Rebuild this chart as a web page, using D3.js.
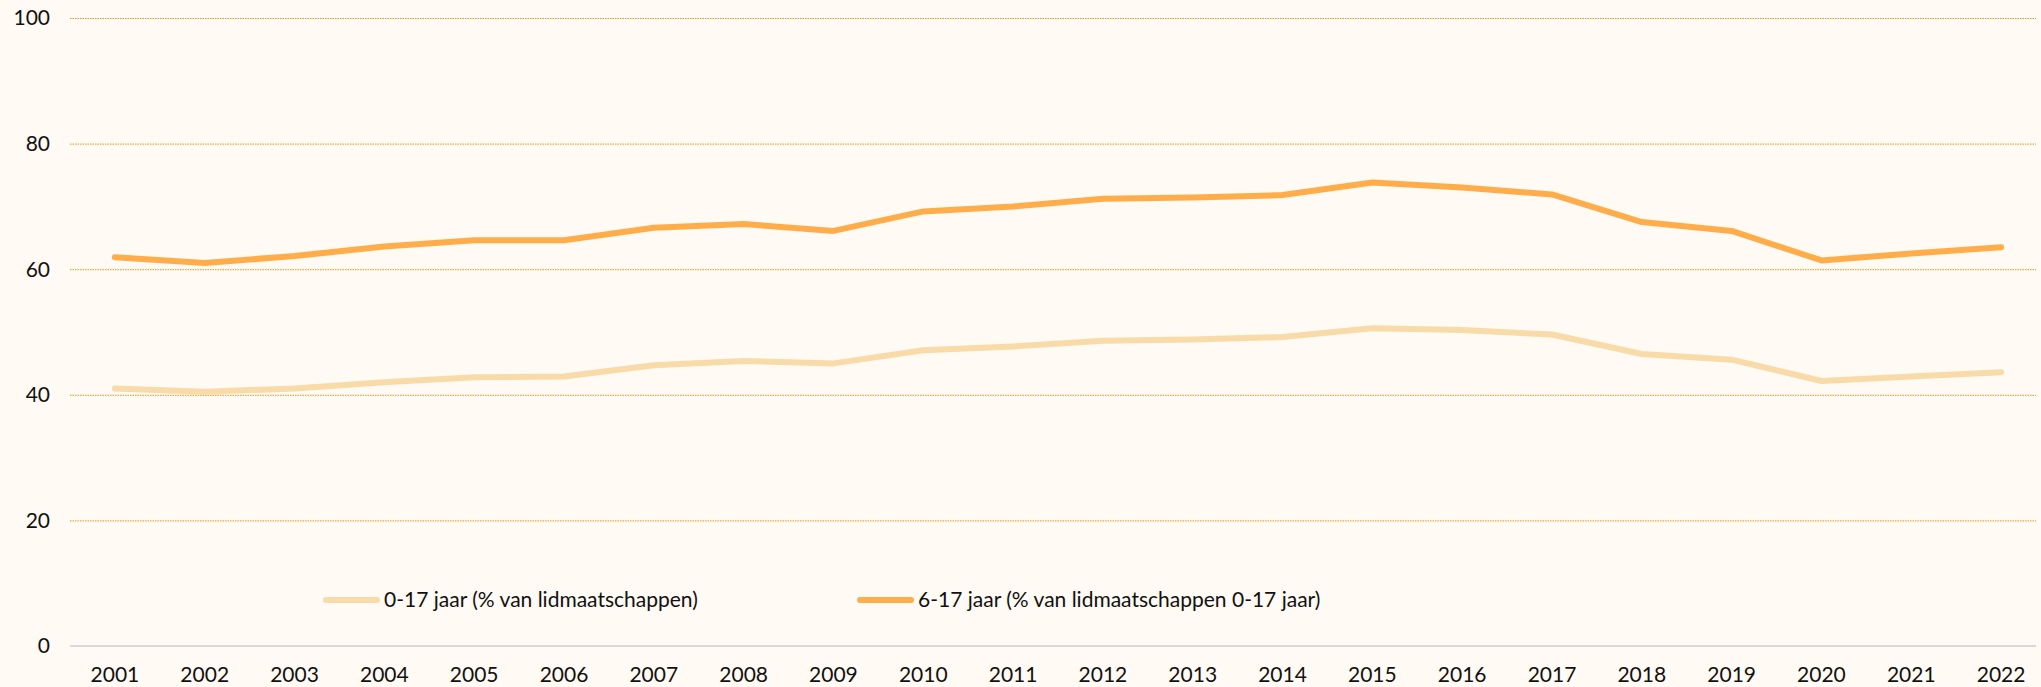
<!DOCTYPE html>
<html>
<head>
<meta charset="utf-8">
<script src="https://cdn.jsdelivr.net/npm/d3@7"></script>
<style>
  body { margin: 0; background: #fffaf3; }
  svg { display: block; font-family: Lato, sans-serif; }
</style>
</head>
<body>
<script>
const width = 2041;
const height = 687;

const years = ['2001', '2002', '2003', '2004', '2005', '2006', '2007', '2008', '2009', '2010', '2011',
  '2012', '2013', '2014', '2015', '2016', '2017', '2018', '2019', '2020', '2021', '2022'];
const age0to17 = [41.0, 40.5, 41.0, 42.0, 42.8, 42.9, 44.7, 45.4, 45.0, 47.1, 47.7,
  48.6, 48.8, 49.2, 50.6, 50.3, 49.6, 46.5, 45.6, 42.2, 42.9, 43.6];
const age6to17 = [61.9, 61.0, 62.1, 63.6, 64.6, 64.6, 66.6, 67.2, 66.1, 69.2, 70.0,
  71.2, 71.4, 71.8, 73.8, 73.0, 71.9, 67.5, 66.1, 61.4, 62.5, 63.5];
const yTicks = [0, 20, 40, 60, 80, 100];
const seriesNames = ['0-17 jaar (% van lidmaatschappen)', '6-17 jaar (% van lidmaatschappen 0-17 jaar)'];
const colors = ['#f8dba8', '#ffad4a'];

const left = 70;
const right = 2046;

const svg = d3.select('body')
  .append('svg')
  .attr('width', width)
  .attr('height', height);

const xScale = d3.scaleBand()
  .domain(years)
  .range([left, right]);

const yScale = d3.scaleLinear()
  .domain([0, 100])
  .range([646, 18]);

// gridlines
svg.selectAll('.grid')
  .data(yTicks.filter(d => d > 0))
  .enter()
  .append('line')
  .attr('x1', left)
  .attr('x2', width - 5)
  .attr('y1', d => yScale(d) + 0.5)
  .attr('y2', d => yScale(d) + 0.5)
  .attr('stroke', '#eb9420')
  .attr('stroke-width', 1)
  .attr('stroke-dasharray', '1.5,1');

// baseline
svg.append('line')
  .attr('x1', left)
  .attr('x2', width - 5)
  .attr('y1', yScale(0))
  .attr('y2', yScale(0))
  .attr('stroke', '#d9d9d9')
  .attr('stroke-width', 2);

// y labels
svg.selectAll('.ylab')
  .data(yTicks)
  .enter()
  .append('text')
  .attr('x', 50)
  .attr('y', d => yScale(d))
  .attr('dy', '0.35em')
  .attr('text-anchor', 'end')
  .attr('font-size', '21px')
  .attr('fill', '#111')
  .text(d => d);

// x labels
svg.selectAll('.xlab')
  .data(years)
  .enter()
  .append('text')
  .attr('x', d => xScale(d) + xScale.bandwidth() / 2)
  .attr('y', 675)
  .attr('dy', '0.35em')
  .attr('text-anchor', 'middle')
  .attr('font-size', '21px')
  .attr('fill', '#111')
  .text(d => d);

const line = d3.line()
  .x((d, i) => xScale(years[i]) + xScale.bandwidth() / 2)
  .y(d => yScale(d));

[age0to17, age6to17].forEach(function (series, i) {
  svg.append('path')
    .datum(series)
    .attr('d', line)
    .attr('fill', 'none')
    .attr('stroke', colors[i])
    .attr('stroke-width', 6)
    .attr('stroke-linecap', 'round')
    .attr('stroke-linejoin', 'round');
});

// legend
const legendX = [326, 860];
seriesNames.forEach(function (name, i) {
  const g = svg.append('g').attr('transform', `translate(${legendX[i]}, 600)`);
  g.append('line')
    .attr('x1', 0)
    .attr('x2', 51)
    .attr('stroke', colors[i])
    .attr('stroke-width', 6)
    .attr('stroke-linecap', 'round');
  g.append('text')
    .attr('x', 58)
    .attr('dy', '0.35em')
    .attr('font-size', '21px')
    .attr('fill', '#111')
    .text(name);
});
</script>
</body>
</html>
